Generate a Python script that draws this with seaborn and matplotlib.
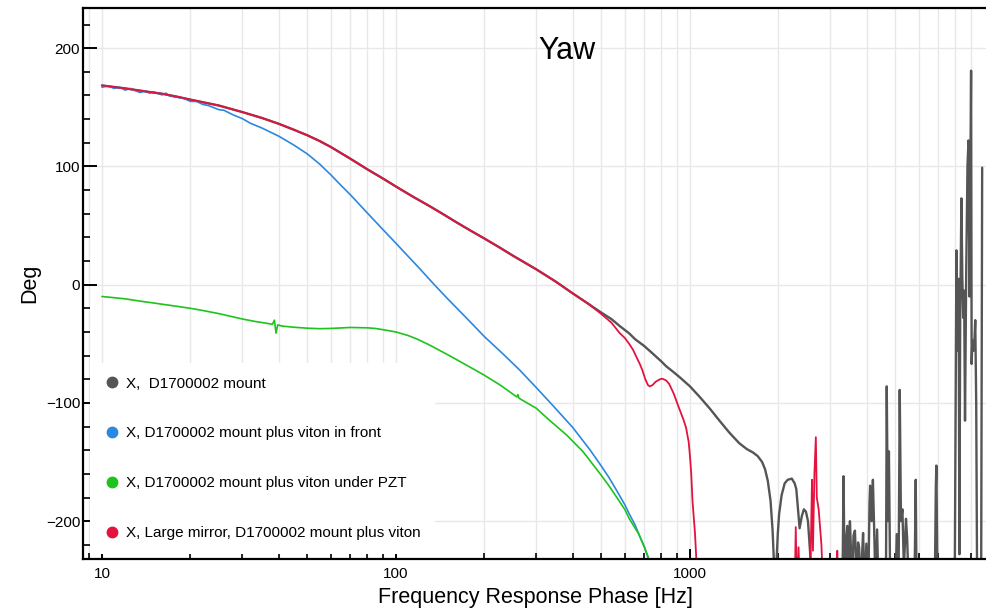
import matplotlib
matplotlib.use("Agg")
import numpy as np
import pandas as pd
import seaborn as sns
import matplotlib.pyplot as plt
from matplotlib.lines import Line2D
from matplotlib.ticker import MultipleLocator, LogLocator, NullFormatter, FixedLocator, FixedFormatter

# ---------------- data ----------------
series_labels = [
    "X,  D1700002 mount",
    "X, D1700002 mount plus viton in front",
    "X, D1700002 mount plus viton under PZT",
    "X, Large mirror, D1700002 mount plus viton",
]
series_colors = ["#555555", "#2b88e0", "#1cc41c", "#e4123f"]

gray_freq = [10, 12, 14, 16, 18, 20, 25, 30, 35, 40, 45, 50, 55, 60, 70, 80, 90, 100, 115, 130, 145, 160,
             180, 200, 225, 250, 275, 300, 350, 400, 450,
             495, 540, 577, 620, 650, 700, 745, 800, 830, 880, 920, 1000, 1080, 1170, 1260, 1360, 1470,
             1560, 1640, 1700, 1760, 1800, 1840, 1880, 1910, 1950,
             1965, 1990, 2010, 2050, 2100, 2150, 2220, 2270, 2300, 2330, 2360, 2400, 2440, 2480, 2520,
             2560, 2600,
             3300, 3330, 3360, 3400, 3430, 3470, 3500, 3530, 3560, 3600, 3640, 3700, 3730, 3760, 3820,
             3850, 3880, 3930, 3980, 4040, 4080, 4100, 4150, 4190, 4230, 4280, 4330, 4380,
             4640, 4670, 4710, 4750, 4800,
             5000, 5050, 5120, 5170, 5220, 5280, 5340, 5430, 5480, 5550, 5800, 5860, 5900,
             6800, 6860, 6890, 6950, 7950, 8060, 8120, 8200, 8250, 8300, 8380, 8440, 8500,
             8560, 8620, 8700, 8790, 8860, 8930, 9040, 9080, 9130, 9200, 9270, 9340, 9410, 9480,
             9780, 9860]
gray_deg = [168.5, 166, 163.5, 161.5, 159, 156.5, 151.5, 146, 141, 136, 131, 126.3, 121.5, 116.5, 106.5,
            97.5, 90, 83, 74, 66.5, 59.5, 53, 45.5, 39, 31.5, 24.5, 18.5, 13, 2.5, -7.5, -16,
            -23, -29, -35, -41, -46, -52, -58, -65, -69, -74, -78, -86, -95, -105, -115, -125, -134,
            -139, -142, -145, -150, -156, -166, -183, -208, -260,
            -240, -210, -194, -178, -168, -165, -164, -168, -173, -190, -206, -196, -190, -192, -200,
            -225, -260,
            -260, -162, -260, -215, -204, -260, -200, -225, -260, -212, -208, -260, -218, -222, -260,
            -228, -210, -260, -219, -260, -185, -170, -200, -165, -205, -260, -207, -260,
            -260, -86, -200, -141, -260,
            -260, -211, -260, -89, -200, -190, -240, -198, -215, -260, -260, -165, -260,
            -260, -170, -153, -260, -260, 29, -56, 5, -228, -30, 73, 6, -28,
            -5, -115, 9, 101, 122, -10, 181, -67, -47, -56, -50, -30, -100, -260,
            -260, 99]

blue_freq = [10, 10.5, 11, 11.5, 12, 12.5, 13, 13.5, 14, 14.5, 15, 16, 16.5, 17, 18, 19, 20, 21, 22, 23,
             25, 26, 28, 30, 32, 35, 40, 45, 50, 55, 60, 65, 70, 80, 90,
             100, 110, 120, 135, 150, 175, 200, 230, 263, 300, 344, 400, 458, 495, 530, 560, 600, 622,
             650, 670, 700, 730, 760]
blue_deg = [167, 168, 166, 167, 164.5, 166, 164, 162.5, 164, 162, 163, 160.5, 162, 159.5, 158.5, 157.5,
            155, 155, 152.5, 151.5, 148, 147.5, 143.5, 140.5, 136.5, 132.5, 125.5, 118, 110.5, 102, 93,
            84, 76, 60.5, 47, 35, 24, 14, 0, -12, -29, -44, -58, -72, -87, -103, -121,
            -140, -152, -163, -173, -186, -194, -203, -211, -222, -235, -260]

green_freq = [10, 11, 12, 13, 14, 15, 16, 18, 20, 22, 25, 28, 30, 33, 36, 38, 38.6, 39.1, 39.6, 41, 45, 50,
              55, 60, 70, 80, 85, 90, 95, 100, 110, 118, 130, 152, 175, 198, 225, 258, 260, 262, 300,
              334, 380, 432, 495, 530, 564, 600, 622, 640, 670, 700, 720, 740, 760]
green_deg = [-10, -11, -12, -13.3, -14.5, -15.5, -16.5, -18.3, -20, -21.8, -24.5, -27.3, -29, -31, -32.5,
             -33.5, -30, -41, -34, -35, -36, -36.8, -37.2, -37, -36.2, -36.5, -37, -38, -39, -40, -43, -46,
             -51, -60, -68.5, -76, -84.5, -95, -93, -96, -104.5, -115, -127, -141, -160, -170, -180, -190,
             -198, -203, -211, -222, -230, -240, -260]

red_freq = [10, 12, 14, 16, 18, 20, 25, 30, 35, 40, 45, 50, 55, 60, 70, 80, 90, 100, 115, 130, 145, 160,
            180, 200, 225, 250, 275, 300, 350, 400, 450,
            495, 540, 577, 600, 621, 640, 660, 675, 688, 705, 720, 730, 745, 765, 790, 805, 830, 850,
            880, 920, 950, 970, 990, 1000, 1010, 1020, 1040, 1065,
            2270, 2290, 2310, 2340, 2370, 2560, 2580, 2600, 2620, 2650, 2680, 2700, 2740, 2800, 2840,
            3150, 3170, 3190]
red_deg = [168.5, 166, 163.5, 161.5, 159, 156.5, 151.5, 146, 141, 136, 131, 126.3, 121.5, 116.5, 106.5,
           97.5, 90, 83, 74, 66.5, 59.5, 53, 45.5, 39, 31.5, 24.5, 18.5, 13, 2.5, -7.5, -16,
           -24, -32, -41, -45, -50, -55, -62, -67, -72, -80, -85, -86, -85, -82, -80, -79.5, -81, -84,
           -92, -105, -114, -121, -133, -145, -160, -183, -210, -260,
           -260, -205, -260, -222, -260, -260, -215, -165, -225, -160, -129, -180, -190, -220, -260,
           -260, -225, -260]

x_ticks = [10, 100, 1000]
x_tick_labels = ["10", "100", "1000"]
y_ticks = [-200, -100, 0, 100, 200]

# ---------------- drawing ----------------
sns.set_theme(style="white")
plt.rcParams['font.family'] = ['Liberation Sans', 'DejaVu Sans']

fig = plt.figure(figsize=(9.87, 6.09), dpi=100)
ax = fig.add_axes([83 / 987, 1 - 559 / 609, 904 / 987, 551 / 609])

data = [(gray_freq, gray_deg), (blue_freq, blue_deg), (green_freq, green_deg), (red_freq, red_deg)]
widths = [1.7, 1.2, 1.2, 1.3]
for (f, d), c, lw in zip(data, series_colors, widths):
    df = pd.DataFrame({"f": f, "deg": d})
    sns.lineplot(data=df, x="f", y="deg", ax=ax, color=c, lw=lw, estimator=None, sort=False, legend=False)

ax.set_xscale("log")
ax.set_xlim(8.62, 10240)
ax.set_ylim(-232, 234)

ax.xaxis.set_major_locator(FixedLocator(x_ticks))
ax.xaxis.set_major_formatter(FixedFormatter(x_tick_labels))
ax.xaxis.set_minor_locator(LogLocator(base=10, subs=np.arange(2, 10)))
ax.xaxis.set_minor_formatter(NullFormatter())
ax.yaxis.set_major_locator(FixedLocator(y_ticks))
ax.yaxis.set_minor_locator(MultipleLocator(20))

ax.set_axisbelow(True)
ax.grid(which="major", axis="y", color="#e8e8e8", lw=1.0)
ax.grid(which="both", axis="x", color="#e8e8e8", lw=1.0)

for s in ["left", "top", "bottom"]:
    ax.spines[s].set_visible(True)
    ax.spines[s].set_color("black")
    ax.spines[s].set_linewidth(1.6)
ax.spines["right"].set_visible(False)

ax.tick_params(axis="both", which="both", direction="in", colors="black", labelcolor="black",
               bottom=True, left=True, top=False, right=False)
ax.tick_params(axis="y", which="major", length=10, width=1.4, labelsize=11, pad=2)
ax.tick_params(axis="y", which="minor", length=5, width=1.2)
ax.tick_params(axis="x", which="major", length=7, width=1.4, labelsize=11, pad=6)
ax.tick_params(axis="x", which="minor", length=4, width=1.2)

ax.set_xlabel("Frequency Response Phase [Hz]", fontsize=15.5, color="black", labelpad=4)
ax.set_ylabel("Deg", fontsize=15.5, color="black", labelpad=4)

ax.text(0.535, 0.922, "Yaw", transform=ax.transAxes, ha="center", va="center",
        fontsize=22, color="black")

handles = [Line2D([], [], marker="o", ls="none", color=c, markersize=7.5) for c in series_colors]
leg = ax.legend(handles, series_labels, loc="upper left", bbox_to_anchor=(0.008, 0.356),
                frameon=True, facecolor="white", edgecolor="none", framealpha=1, fancybox=False,
                fontsize=11, labelspacing=2.35, handlelength=1.0, handletextpad=0.45,
                borderpad=0.9, borderaxespad=0)
for t in leg.get_texts():
    t.set_color("black")

fig.savefig("out.png", dpi=100)
